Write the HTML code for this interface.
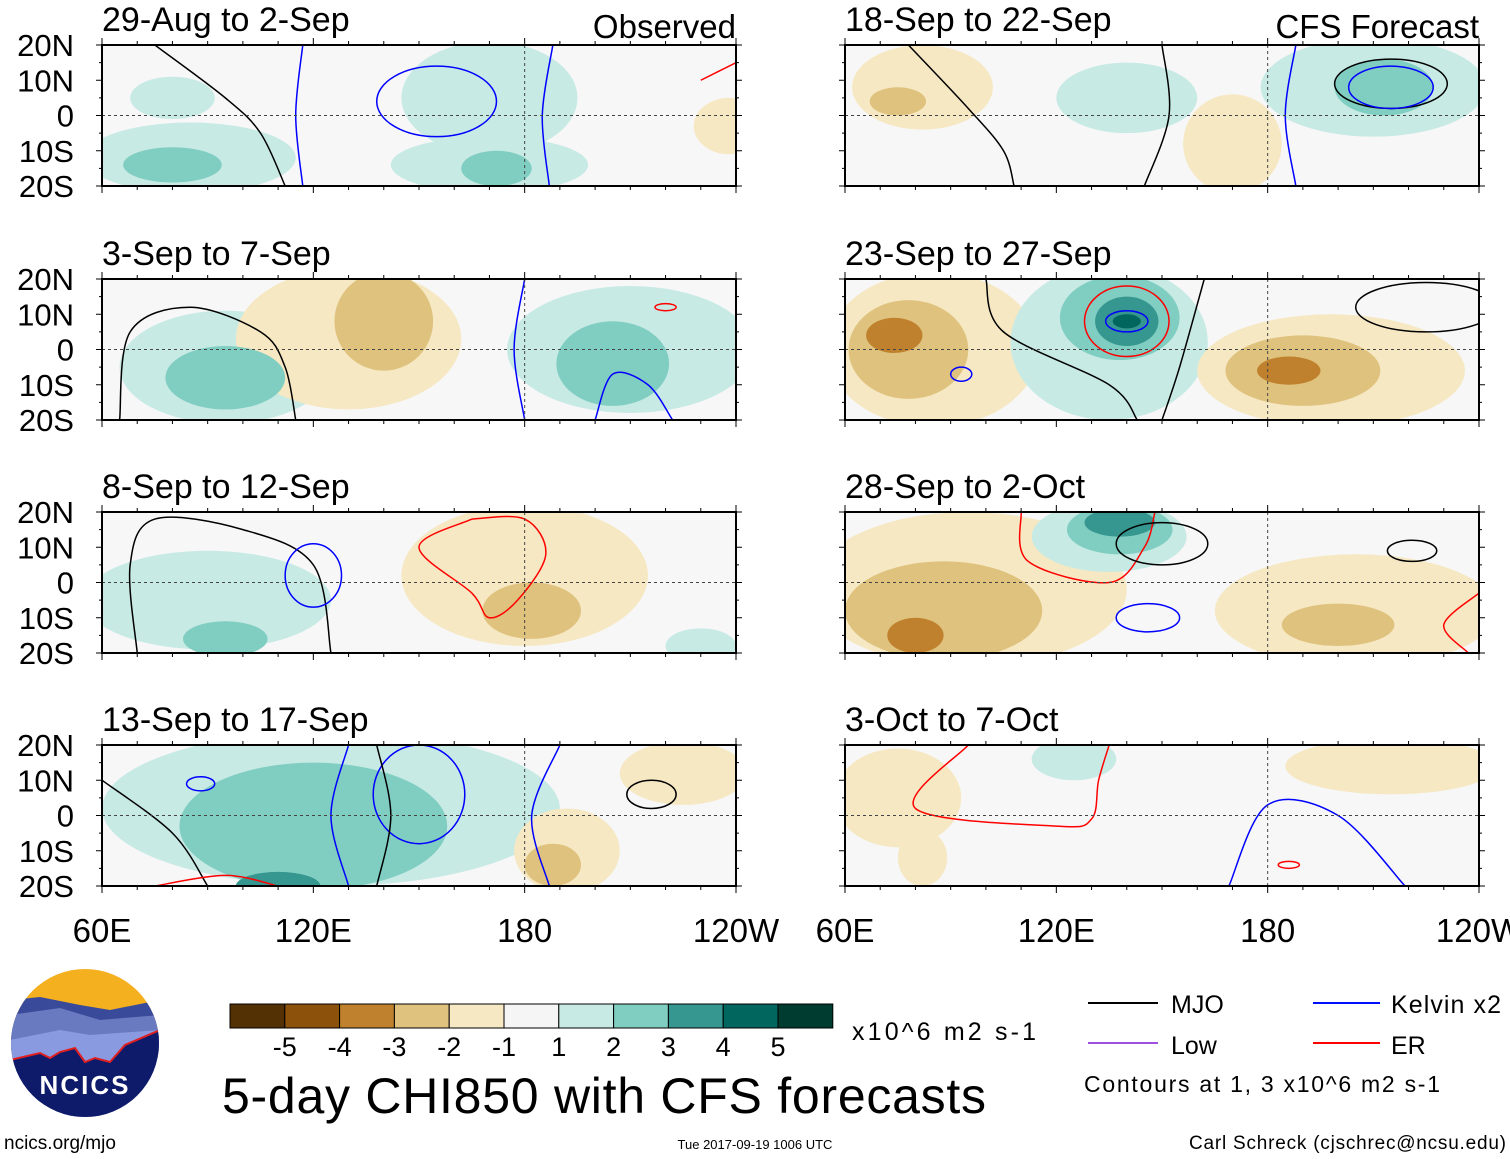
<!DOCTYPE html>
<html><head><meta charset="utf-8"><style>
body{margin:0;background:#fff;width:1510px;height:1159px;overflow:hidden;font-family:"Liberation Sans",sans-serif}
svg{position:absolute;left:0;top:0}
</style></head><body>
<svg id="chart" width="1510" height="1159" font-family="Liberation Sans, sans-serif">
<defs id="defs"></defs>
<g id="panels"></g>
<g id="legend">
 <g>
  <clipPath id="logoclip"><circle cx="85" cy="1043" r="74"/></clipPath>
  <g clip-path="url(#logoclip)">
   <rect x="10" y="968" width="150" height="150" fill="#f5b020"/>
   <path d="M10 1000 L40 997 L80 1005 L110 1010 L160 1000 L160 1120 L10 1120Z" fill="#3a4a9a"/>
   <path d="M10 1015 L60 1008 L100 1020 L160 1015 L160 1120 L10 1120Z" fill="#6a7ac0"/>
   <path d="M10 1040 L60 1030 L90 1035 L160 1030 L160 1120 L10 1120Z" fill="#8a9ae0"/>
   <path d="M10 1060 L40 1053 L50 1058 L60 1052 L75 1048 L85 1062 L95 1058 L110 1062 L125 1045 L160 1030 L160 1120 L10 1120Z" fill="#0e1a6a" stroke="#e02020" stroke-width="2"/>
  </g>
  <text x="85" y="1094" text-anchor="middle" font-size="26" font-weight="bold" fill="#fff" letter-spacing="2">NCICS</text>
 </g>
 <text x="4" y="1149" font-size="19">ncics.org/mjo</text>
 <g id="cbar"></g>
 <text x="852" y="1040" font-size="25" textLength="184">x10^6 m2 s-1</text>
 <text x="222" y="1113" font-size="50" textLength="764">5-day CHI850 with CFS forecasts</text>
 <text x="755" y="1149" font-size="13" text-anchor="middle">Tue 2017-09-19 1006 UTC</text>
 <text x="1506" y="1149" font-size="19" text-anchor="end" textLength="317">Carl Schreck (cjschrec@ncsu.edu)</text>
 <line x1="1088" y1="1003" x2="1158" y2="1003" stroke="#000" stroke-width="2"/>
 <text x="1171" y="1013" font-size="25">MJO</text>
 <line x1="1088" y1="1043" x2="1158" y2="1043" stroke="#a050e0" stroke-width="2"/>
 <text x="1171" y="1054" font-size="25">Low</text>
 <line x1="1313" y1="1003" x2="1380" y2="1003" stroke="#0010ff" stroke-width="2"/>
 <text x="1391" y="1013" font-size="25" textLength="110">Kelvin x2</text>
 <line x1="1313" y1="1043" x2="1380" y2="1043" stroke="#ff0000" stroke-width="2"/>
 <text x="1391" y="1054" font-size="25">ER</text>
 <text x="1084" y="1092" font-size="23" textLength="356">Contours at 1, 3 x10^6 m2 s-1</text>
</g>
</svg>
<script>
const levelColors=["#543005","#8c510a","#bf812d","#dfc27d","#f6e8c3","#f5f5f5","#c7eae5","#80cdc1","#35978f","#01665e","#003c30"];
const cbarLabels=["-5","-4","-3","-2","-1","1","2","3","4","5"];
const panelTitles=["29-Aug to 2-Sep","3-Sep to 7-Sep","8-Sep to 12-Sep","13-Sep to 17-Sep","18-Sep to 22-Sep","23-Sep to 27-Sep","28-Sep to 2-Oct","3-Oct to 7-Oct"];
const latTicks=["20N","10N","0","10S","20S"];
const lonTicks=["60E","120E","180","120W"];
// blobs: [lon, lat, rxDeg, ryDeg, level]
const blobs=[
 [[85,-12,30,10,1],[80,-14,14,5,2],[170,5,25,16,1],[170,-14,28,8,1],[172,-15,10,5,2],[238,-3,10,8,-1],[80,5,12,6,1]],
 [[95,-5,30,16,1],[95,-8,17,9,2],[130,3,32,20,-1],[140,8,14,14,-2],[210,0,35,18,1],[205,-4,16,12,2]],
 [[90,-5,35,14,1],[95,-16,12,5,2],[180,2,35,20,-1],[182,-8,14,8,-2],[230,-18,10,5,1]],
 [[125,2,65,22,1],[120,-3,38,18,2],[110,-20,12,4,3],[192,-10,15,12,-1],[188,-14,8,6,-2],[225,12,18,9,-1]],
 [[82,8,20,12,-1],[75,4,8,4,-2],[140,5,20,10,1],[210,8,32,14,1],[213,8,14,8,2],[170,-8,14,14,-1]],
 [[85,0,30,22,-1],[78,0,17,14,-2],[74,4,8,5,-3],[135,2,28,22,1],[138,9,17,12,2],[140,8,9,7,3],[140,8,4,2,4],[198,-6,38,16,-1],[190,-6,22,10,-2],[186,-6,9,4,-3]],
 [[95,-2,45,22,-1],[88,-8,28,14,-2],[80,-15,8,5,-3],[135,13,22,10,1],[138,15,15,7,2],[138,17,10,4,3],[205,-8,40,16,-1],[200,-12,16,6,-2]],
 [[75,5,18,14,-1],[82,-12,7,8,-1],[125,16,12,6,1],[215,14,30,8,-1]]
];
const contours=[
 [["#00f","e",155,4,17,10],["#00f","l",[[117,20],[115,0],[117,-20]]],["#00f","l",[[188,20],[185,0],[187,-20]]],["#000","l",[[75,20],[95,5],[105,-5],[112,-20]]],["#f00","l",[[230,10],[240,15]]]],
 [["#000","l",[[65,-20],[68,5],[85,12],[105,5],[112,-5],[115,-20]]],["#00f","l",[[180,20],[177,0],[180,-20]]],["#00f","l",[[200,-20],[205,-7],[215,-10],[222,-20]]],["#f00","e",220,12,3,1]],
 [["#000","l",[[70,-20],[68,5],[75,18],[100,15],[120,5],[125,-20]]],["#00f","e",120,2,8,9],["#f00","l",[[165,18],[150,10],[165,-3],[170,-10],[178,-5],[186,8],[180,18],[165,18]]]],
 [["#000","l",[[60,10],[80,-5],[90,-20]]],["#00f","e",88,9,4,2],["#00f","e",150,6,13,14],["#00f","l",[[130,20],[125,0],[130,-20]]],["#000","l",[[138,20],[142,0],[138,-20]]],["#000","e",216,6,7,4],["#00f","l",[[190,20],[182,0],[187,-20]]],["#f00","l",[[75,-20],[95,-17],[110,-20]]]],
 [["#000","e",215,9,16,7],["#00f","e",215,8,12,6],["#000","l",[[78,20],[95,2],[105,-10],[108,-20]]],["#000","l",[[150,20],[152,0],[145,-20]]],["#00f","l",[[188,20],[185,0],[188,-20]]]],
 [["#f00","e",140,8,12,10],["#00f","e",140,8,6,3],["#000","l",[[100,20],[105,5],[135,-10],[143,-20]]],["#000","l",[[162,20],[155,-5],[150,-20]]],["#000","e",225,12,20,7],["#00f","e",93,-7,3,2]],
 [["#f00","l",[[110,20],[112,6],[135,0],[145,10],[148,20]]],["#000","e",150,11,13,6],["#00f","e",146,-10,9,4],["#000","e",221,9,7,3],["#f00","l",[[240,-3],[230,-12],[237,-20]]]],
 [["#f00","l",[[95,20],[80,2],[120,-3],[130,-1],[132,10],[135,20]]],["#00f","l",[[169,-20],[180,3],[200,0],[219,-20]]],["#f00","e",186,-14,3,1]]
];
const NS="http://www.w3.org/2000/svg";
const svg=document.getElementById('chart');
const panelsG=document.getElementById('panels');
const defs=document.getElementById('defs');
const colX=[102,845], rowY=[45,279,512,745], PW=634, PH=141;
function mk(tag,attrs,parent){const e=document.createElementNS(NS,tag);for(const k in attrs)e.setAttribute(k,attrs[k]);parent.appendChild(e);return e;}
function lonScale(lon){return (lon-60)/180*PW;}
function latScale(lat){return (20-lat)/40*PH;}
function levelColor(l){return levelColors[l+5];}
function smooth(pts){
 let d='M'+pts[0][0]+','+pts[0][1];
 for(let i=0;i<pts.length-1;i++){
  const p0=pts[Math.max(i-1,0)],p1=pts[i],p2=pts[i+1],p3=pts[Math.min(i+2,pts.length-1)];
  const c1=[p1[0]+(p2[0]-p0[0])/6,p1[1]+(p2[1]-p0[1])/6],c2=[p2[0]-(p3[0]-p1[0])/6,p2[1]-(p3[1]-p1[1])/6];
  d+=` C${c1[0]},${c1[1]} ${c2[0]},${c2[1]} ${p2[0]},${p2[1]}`;
 }
 return d;
}
for(let p=0;p<8;p++){
 const x0=colX[p<4?0:1], y0=rowY[p%4];
 const g=mk('g',{transform:`translate(${x0},${y0})`},panelsG);
 
 
 const cp=mk('clipPath',{id:'cp'+p},defs);mk('rect',{x:0,y:0,width:PW,height:PH},cp);
 mk('rect',{x:0,y:0,width:PW,height:PH,fill:'#f7f7f7'},g);
 const sg=mk('g',{'clip-path':`url(#cp${p})`},g);
 const bl=blobs[p].slice().sort((a,b)=>Math.abs(a[4])-Math.abs(b[4]));
 for(const b of bl){
  const e=mk('ellipse',{cx:lonScale(b[0]),cy:latScale(b[1]),rx:b[2]/180*PW,ry:b[3]/40*PH,fill:levelColor(b[4])},sg);
  
  
 }
 mk('line',{x1:0,y1:latScale(0),x2:PW,y2:latScale(0),stroke:'#444','stroke-dasharray':'3,3','stroke-width':1},g);
 mk('line',{x1:lonScale(180),y1:0,x2:lonScale(180),y2:PH,stroke:'#444','stroke-dasharray':'3,3','stroke-width':1},g);
 for(const c of contours[p]){
  let e;
  if(c[1]==='e') e=mk('ellipse',{cx:lonScale(c[2]),cy:latScale(c[3]),rx:c[4]/180*PW,ry:c[5]/40*PH,fill:'none',stroke:c[0],'stroke-width':1.5},sg);
  else e=mk('path',{d:smooth(c[2].map(q=>[lonScale(q[0]),latScale(q[1])])),fill:'none',stroke:c[0],'stroke-width':1.5},sg);
  
  
 }
 mk('rect',{x:0,y:0,width:PW,height:PH,fill:'none',stroke:'#000','stroke-width':2},g);
 for(let lon=60;lon<=240;lon+=10){const x=lonScale(lon),L=lon%60===0?7:4;
  mk('line',{x1:x,y1:0,x2:x,y2:-L,stroke:'#000'},g);mk('line',{x1:x,y1:PH,x2:x,y2:PH+L,stroke:'#000'},g);}
 for(let lat=-20;lat<=20;lat+=5){const y=latScale(lat),L=lat%10===0?6:3;
  mk('line',{x1:0,y1:y,x2:-L,y2:y,stroke:'#000'},g);mk('line',{x1:PW,y1:y,x2:PW+L,y2:y,stroke:'#000'},g);}
 const t=mk('text',{x:0,y:-14,'font-size':34},g);t.textContent=panelTitles[p];
 
 
 if(p<4){latTicks.forEach((s,i)=>{const tt=mk('text',{x:-28,y:latScale(20-i*10)+11,'font-size':31,'text-anchor':'end'},g);tt.textContent=s;
  
  });}
 if(p%4===3){lonTicks.forEach((s,i)=>{const tt=mk('text',{x:lonScale(60+i*60),y:PH+56,'font-size':33,'text-anchor':'middle'},g);tt.textContent=s;
  
  });}
}
const lab1=mk('text',{x:736,y:38,'font-size':33,'text-anchor':'end'},svg);lab1.textContent='Observed';


const lab2=mk('text',{x:1479,y:38,'font-size':33,'text-anchor':'end'},svg);lab2.textContent='CFS Forecast';


const cb=document.getElementById('cbar');const cw=54.8;
levelColors.forEach((c,i)=>{const r=mk('rect',{x:230+i*cw,y:1004,width:cw,height:24,fill:c,stroke:'#000','stroke-width':1},cb);
 
 });
cbarLabels.forEach((s,i)=>{const t=mk('text',{x:230+(i+1)*cw,y:1056,'font-size':27,'text-anchor':'middle'},cb);t.textContent=s;
 
 });
</script>
</body></html>
